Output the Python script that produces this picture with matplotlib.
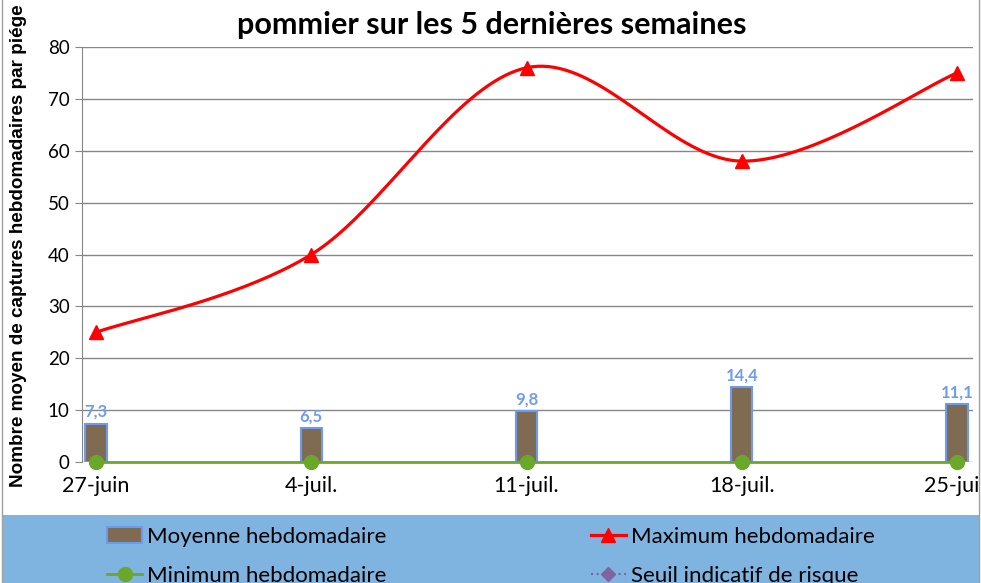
import numpy as np
import matplotlib
matplotlib.use("Agg")
import matplotlib.pyplot as plt
from matplotlib.lines import Line2D
from matplotlib.patches import Patch, Rectangle

# weekly data
semaines = ["27-juin", "4-juil.", "11-juil.", "18-juil.", "25-juil."]
moyenne = [7.3, 6.5, 9.8, 14.4, 11.1]
maximum = [25, 40, 76, 58, 75]
minimum = [0, 0, 0, 0, 0]
seuil = []  # no values shown

yticks = [0, 10, 20, 30, 40, 50, 60, 70, 80]

BRUN = "#7f6a52"
BLEU_BORD = "#6b9bf0"
ROUGE = "#ff0000"
VERT = "#6aa82a"
VIOLET = "#8064a2"
FOND_LEG = "#7fb4e0"


def smooth(xs, ys, n=40):
    # excel-like smoothed line (catmull-rom through the points)
    xs = np.asarray(xs, float)
    ys = np.asarray(ys, float)
    px = np.concatenate([[xs[0]], xs, [xs[-1]]])
    py = np.concatenate([[ys[0]], ys, [ys[-1]]])
    out_x, out_y = [], []
    for i in range(1, len(px) - 2):
        p0, p1, p2, p3 = (np.array([px[j], py[j]]) for j in (i - 1, i, i + 1, i + 2))
        c1 = p1 + (p2 - p0) / 6
        c2 = p2 - (p3 - p1) / 6
        t = np.linspace(0, 1, n)[:, None]
        b = (1 - t) ** 3 * p1 + 3 * (1 - t) ** 2 * t * c1 + 3 * (1 - t) * t ** 2 * c2 + t ** 3 * p2
        out_x.extend(b[:, 0])
        out_y.extend(b[:, 1])
    return np.array(out_x), np.array(out_y)


plt.rcParams["font.family"] = ["Lato", "DejaVu Sans"]

fig = plt.figure(figsize=(9.81, 5.83), dpi=100)
ax = fig.add_axes([0.0836, 0.2075, 0.9082, 0.7119])

x = np.arange(len(semaines))

ax.bar(x, moyenne, width=0.098, color=BRUN, edgecolor=BLEU_BORD, linewidth=1.5, zorder=3)
for xi, v in zip(x, moyenne):
    ax.annotate(f"{v:.1f}".replace(".", ","), (xi, v), xytext=(0, 3), textcoords="offset points",
                ha="center", va="bottom", color="#6f9cf2", fontsize=12, fontweight="bold")

sx, sy = smooth(x, maximum)
ax.plot(sx, sy, color=ROUGE, lw=2.3, zorder=4)
ax.plot(x, maximum, ls="none", marker="^", color=ROUGE, ms=10, zorder=5)

ax.plot(x, minimum, color=VERT, lw=2, marker="o", ms=10, zorder=5, clip_on=False)
ax.plot(x[:len(seuil)], seuil, color=VIOLET, ls=":", marker="D")

ax.set_xlim(-0.065, 4.074)
ax.set_ylim(0, 80)
ax.set_yticks(yticks)
ax.set_xticks(x)
ax.set_xticklabels(semaines, fontsize=15.5)
ax.tick_params(axis="x", length=0, pad=10)
ax.tick_params(axis="y", length=5, color="#868686", labelsize=13.5, pad=4)
ax.yaxis.grid(True, color="#868686", lw=1)
ax.set_axisbelow(True)
for s in ("top", "right", "bottom"):
    ax.spines[s].set_visible(False)
ax.spines["left"].set_color("#868686")

fig.text(0.501, 0.957, "pommier sur les 5 dernières semaines", ha="center", va="center",
         fontsize=22, fontweight="bold")
fig.text(0.019, 0.578, "Nombre moyen de captures hebdomadaires par piége", rotation=90,
         ha="center", va="center", fontsize=13.6, fontweight="bold", family="Liberation Sans")

# legend band + chart border
fig.patches.append(Rectangle((0.003, 0), 0.995, 0.1166, transform=fig.transFigure,
                             facecolor=FOND_LEG, edgecolor="none", zorder=0))
fig.add_artist(Line2D([0.002, 0.002], [0, 1], color="#a0a0a0", lw=1, transform=fig.transFigure))
fig.add_artist(Line2D([0.998, 0.998], [0, 1], color="#a0a0a0", lw=1, transform=fig.transFigure))

handles = [
    Patch(facecolor=BRUN, edgecolor=BLEU_BORD, linewidth=1.5),
    Line2D([], [], color=VERT, lw=2, marker="o", ms=10),
    Line2D([], [], color=ROUGE, lw=2.3, marker="^", ms=10),
    Line2D([], [], color=VIOLET, lw=1.5, ls=":", marker="D", ms=7),
]
labels = ["Moyenne hebdomadaire", "Minimum hebdomadaire",
          "Maximum hebdomadaire", "Seuil indicatif de risque"]
fig.legend(handles, labels, ncol=2, loc="upper left", bbox_to_anchor=(0.102, 0.108),
           frameon=False, fontsize=16, handlelength=1.6, handletextpad=0.2,
           columnspacing=9.2, labelspacing=0.85, borderaxespad=0.0, borderpad=0.3)

fig.savefig("out.png", dpi=100)
